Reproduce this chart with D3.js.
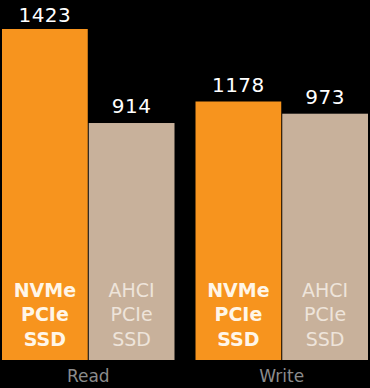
<!DOCTYPE html>
<html>
<head>
<meta charset="utf-8">
<script src="https://cdn.jsdelivr.net/npm/d3@7"></script>
<style>
  html, body { margin: 0; padding: 0; background: #000; }
  svg { display: block; }
</style>
</head>
<body>
<svg id="chart" width="370" height="388"></svg>
<script>
// benchmark groups and the two drive types
var groups = ['Read', 'Write'];
var drives = ['NVMe PCIe SSD', 'AHCI PCIe SSD'];
var readValues = [1423, 914];
var writeValues = [1178, 973];
var driveLines = [['NVMe', 'PCIe', 'SSD'], ['AHCI', 'PCIe', 'SSD']];

var W = 370, H = 388, bottom = 360;
var svg = d3.select('#chart');
svg.append('rect').attr('width', W).attr('height', H).attr('fill', '#000');

var colors = d3.scaleOrdinal().domain(drives).range(['#F7941E', '#C8B19B']);
var textColors = d3.scaleOrdinal().domain(drives).range(['#FFF6E8', '#EEE4DA']);

var x0 = d3.scaleBand().domain(groups).range([2, 368]).paddingInner(21 / 193.5);
var x1 = d3.scaleBand().domain(drives).range([0, x0.bandwidth()]).paddingInner(1 / 86.75);

// the original artwork isn't drawn to a common scale, so each group gets its own
var y = {
  Read: d3.scaleLinear().domain([-369, 1423]).range([bottom, 29]),
  Write: d3.scaleLinear().domain([-3166, 1178]).range([bottom, 101.5])
};

var rows = [];
groups.forEach(function (g, gi) {
  var vals = gi == 0 ? readValues : writeValues;
  drives.forEach(function (d, di) {
    rows.push({ group: g, drive: d, value: vals[di], lines: driveLines[di], bold: di == 0 });
  });
});

var bar = svg.selectAll('g.bar').data(rows).enter().append('g')
  .attr('class', 'bar')
  .attr('transform', function (d) { return 'translate(' + (x0(d.group) + x1(d.drive)) + ',0)'; });

bar.append('rect')
  .attr('x', 0)
  .attr('width', x1.bandwidth())
  .attr('y', function (d) { return y[d.group](d.value); })
  .attr('height', function (d) { return bottom - y[d.group](d.value); })
  .attr('fill', function (d) { return colors(d.drive); });

// value on top (the tallest one gets pushed up against the edge)
bar.append('text')
  .attr('x', x1.bandwidth() / 2)
  .attr('y', function (d) { var t = y[d.group](d.value) - 10; return t < 22 ? 22 : t; })
  .attr('text-anchor', 'middle')
  .attr('fill', '#fff')
  .style('font-family', 'DejaVu Sans')
  .style('font-size', '20px')
  .style('letter-spacing', '0.5px')
  .text(function (d) { return d.value; });

// drive name inside the bar
bar.each(function (d) {
  var t = d3.select(this).append('text')
    .attr('text-anchor', 'middle')
    .attr('fill', textColors(d.drive))
    .style('font-family', 'DejaVu Sans')
    .style('font-size', '19px')
    .style('font-weight', d.bold ? 'bold' : 'normal');
  d.lines.forEach(function (l, i) {
    t.append('tspan').attr('x', x1.bandwidth() / 2).attr('y', 297 + i * 24.3).text(l);
  });
});

// group labels
svg.selectAll('text.group').data(groups).enter().append('text')
  .attr('class', 'group')
  .attr('x', function (g) { return x0(g) + x0.bandwidth() / 2; })
  .attr('y', 382)
  .attr('text-anchor', 'middle')
  .attr('fill', '#8C8C8C')
  .style('font-family', 'DejaVu Sans')
  .style('font-size', '17px')
  .text(function (g) { return g; });
</script>
</body>
</html>
